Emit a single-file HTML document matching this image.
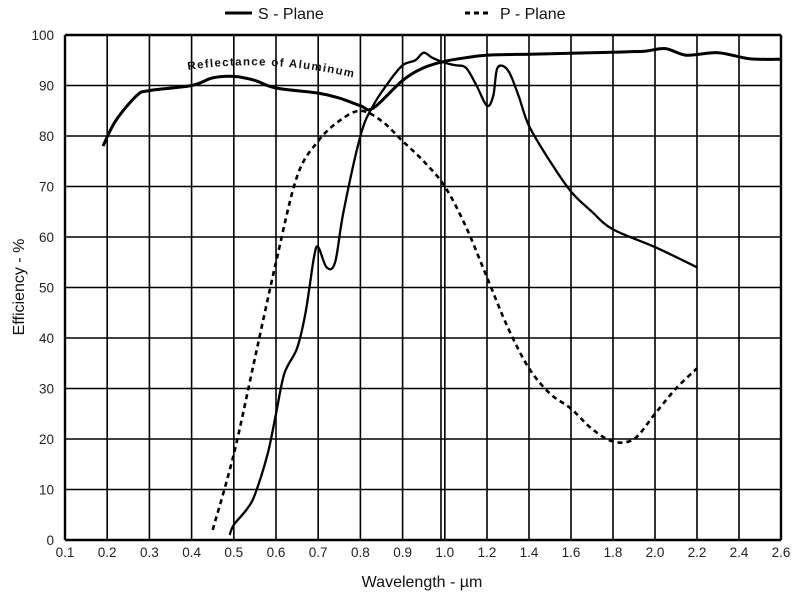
<!DOCTYPE html>
<html><head><meta charset="utf-8"><style>
body{margin:0;background:#fff}
svg{display:block;font-family:"Liberation Sans",sans-serif}
</style></head><body>
<svg id="s" width="797" height="600" viewBox="0 0 797 600">
<rect width="797" height="600" fill="#fff"/>
<g id="grid" stroke="#000" stroke-width="1.6" fill="none"></g>
<g id="lab" font-size="13.5" fill="#222"></g>
<path id="refl" fill="none" stroke="#000" stroke-width="3" stroke-linejoin="round"/>
<path id="sp" fill="none" stroke="#000" stroke-width="2.3" stroke-linejoin="round"/>
<path id="pp" fill="none" stroke="#000" stroke-width="2.6" stroke-dasharray="5,4"/>
<path id="tp" fill="none" stroke="none" d="M188,70 Q280,56 378,84"/>
<text font-size="11.5" font-weight="bold" fill="#111" letter-spacing="1.3"><textPath href="#tp">Reflectance of Aluminum</textPath></text>
<line x1="225" y1="13" x2="252" y2="13" stroke="#000" stroke-width="3"/>
<text x="258" y="19" font-size="16" fill="#111">S - Plane</text>
<line x1="465" y1="13" x2="492" y2="13" stroke="#000" stroke-width="3" stroke-dasharray="5,4"/>
<text x="500" y="19" font-size="16" fill="#111">P - Plane</text>
<text x="422" y="587" font-size="16" text-anchor="middle" fill="#111">Wavelength - µm</text>
<text transform="translate(24,287) rotate(-90)" font-size="16" text-anchor="middle" fill="#111">Efficiency - %</text>
</svg>
<script>
function X(w){return w<=1?65+(w-0.1)*422:445+(w-1)*210;}
function Y(e){return 540-5.05*e;}
var g=document.getElementById('grid'),l=document.getElementById('lab'),ns='http://www.w3.org/2000/svg';
function ln(x1,y1,x2,y2,w){var e=document.createElementNS(ns,'line');e.setAttribute('x1',x1);e.setAttribute('y1',y1);e.setAttribute('x2',x2);e.setAttribute('y2',y2);if(w)e.setAttribute('stroke-width',w);g.appendChild(e);}
function tx(x,y,s,a){var e=document.createElementNS(ns,'text');e.setAttribute('x',x);e.setAttribute('y',y);e.setAttribute('text-anchor',a);e.textContent=s;l.appendChild(e);}
for(var i=0;i<=10;i++){var y=Y(i*10);ln(65,y,781,y,(i==0||i==10)?2.4:1.6);tx(54,y+5,String(i*10),'end');}
var xs=[];for(var i=1;i<=10;i++)xs.push(i/10);for(var i=6;i<=13;i++)xs.push(i/5);
xs.forEach(function(w){var x=X(w);ln(x,Y(100),x,540,(w==0.1)?2.4:1.6);tx(x,557,w.toFixed(1),'middle');});
ln(781,Y(100),781,540,2.4);ln(441,Y(100),441,540,1.6);
function P(id,d){var p=d.map(function(q){return [X(q[0]),Y(q[1])];});var s='M'+p[0][0].toFixed(1)+','+p[0][1].toFixed(1);
for(var i=0;i<p.length-1;i++){var p0=p[i-1]||p[i],p1=p[i],p2=p[i+1],p3=p[i+2]||p2;
var c1=[p1[0]+(p2[0]-p0[0])/6,p1[1]+(p2[1]-p0[1])/6],c2=[p2[0]-(p3[0]-p1[0])/6,p2[1]-(p3[1]-p1[1])/6];
s+='C'+c1[0].toFixed(1)+','+c1[1].toFixed(1)+' '+c2[0].toFixed(1)+','+c2[1].toFixed(1)+' '+p2[0].toFixed(1)+','+p2[1].toFixed(1);}
document.getElementById(id).setAttribute('d',s);}
P('refl',[[0.19,78],[0.22,83],[0.27,88],[0.3,89],[0.4,90],[0.45,91.5],[0.5,91.8],[0.55,91],[0.6,89.5],[0.7,88.5],[0.75,87.5],[0.8,86],[0.83,85.5],[0.9,91],[0.95,93.5],[1.0,94.8],[1.1,95.5],[1.2,96],[1.4,96.2],[1.6,96.4],[1.8,96.6],[1.95,96.8],[2.05,97.3],[2.15,96],[2.3,96.5],[2.45,95.3],[2.6,95.2]]);
P('sp',[[0.49,1],[0.5,3],[0.53,6],[0.55,9],[0.58,17],[0.6,25],[0.62,33],[0.65,38],[0.67,45],[0.69,56],[0.7,58],[0.72,54],[0.74,55],[0.76,65],[0.8,80],[0.83,86],[0.87,91],[0.9,94],[0.93,95],[0.95,96.5],[0.97,95.5],[1.0,94.5],[1.05,94],[1.1,93.5],[1.15,90],[1.2,86],[1.23,88],[1.25,93.5],[1.3,93],[1.35,88],[1.4,82],[1.5,75],[1.6,69],[1.7,65],[1.8,61.5],[2.0,58],[2.2,54]]);
P('pp',[[0.45,2],[0.5,17],[0.55,36],[0.6,55],[0.65,72],[0.7,79],[0.75,83],[0.8,85],[0.85,83],[0.9,79],[0.95,75],[1.0,70],[1.1,62],[1.2,52],[1.3,42],[1.4,34],[1.5,29],[1.6,26],[1.7,22],[1.8,19.5],[1.9,20],[2.0,25],[2.1,30],[2.2,34]]);
</script>
</body></html>
